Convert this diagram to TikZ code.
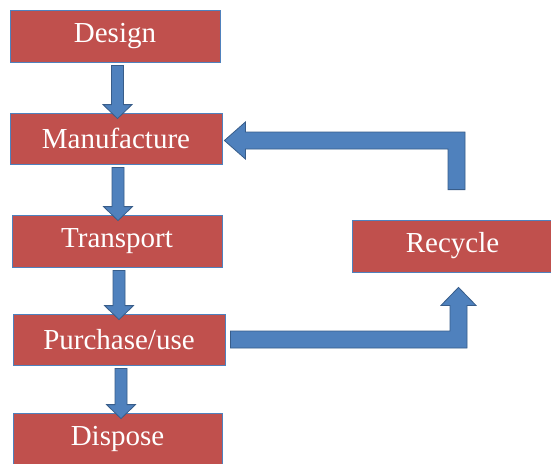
\documentclass[tikz,border=0pt]{standalone}
\usepackage{fontspec}
\setmainfont{Liberation Serif}
\newfontfamily\boxfont{Liberation Serif}
\usetikzlibrary{calc}
\definecolor{boxred}{HTML}{C0504D}
\definecolor{boxedge}{HTML}{4F81BD}
\definecolor{arrfill}{HTML}{4F81BD}
\definecolor{arredge}{HTML}{385D8A}
\tikzset{
  stagebox/.style={rectangle, fill=boxred, draw=boxedge, line width=0.8pt,
    text=white, font=\boxfont\fontsize{29}{32}\selectfont, inner sep=0pt},
  barrow/.style={fill=arrfill, draw=arredge, line width=0.8pt, line join=miter}
}
\newcommand\dnarrow[3]{%
  \filldraw[barrow] let \p1=($(#1.south)+(#3,-3)$), \p2=($(#2.north)+(#3,-6)$) in
    (\x1-6pt,\y1) -- (\x1+6pt,\y1) -- (\x1+6pt,\y2+14pt) -- (\x1+14.5pt,\y2+14pt)
    -- (\x1,\y2) -- (\x1-14.5pt,\y2+14pt) -- (\x1-6pt,\y2+14pt) -- cycle;}
\begin{document}
\begin{tikzpicture}[x=1pt,y=1pt]
\useasboundingbox (0,0) rectangle (551,-463);
\fill[white] (0,0) rectangle (551,-463);
\node[stagebox, minimum width=210pt, minimum height=52pt] (des) at (115,-36) {Design};
\node[stagebox, minimum width=212pt, minimum height=51pt] (man) at (116,-138.5) {Manufacture};
\node[stagebox, minimum width=210pt, minimum height=52pt] (tra) at (117,-241) {Transport};
\node[stagebox, minimum width=212pt, minimum height=51pt] (pur) at (119,-339.5) {Purchase/use};
\node[stagebox, minimum width=209pt, minimum height=52pt] (dis) at (117.5,-439) {Dispose};
\node[stagebox, minimum width=201pt, minimum height=52pt] (rec) at (452.5,-246) {Recycle};
\dnarrow{des}{man}{2.5}
\dnarrow{man}{tra}{2}
\dnarrow{tra}{pur}{2}
\dnarrow{pur}{dis}{2}
% Recycle -> Manufacture
\filldraw[barrow] let \p1=(man.east), \p2=(rec.north) in
  (\x2+12.5pt,\y2+30pt) -- (\x2+12.5pt,\y1+6.5pt) -- (\x1+23pt,\y1+6.5pt)
  -- (\x1+23pt,\y1+16.5pt) -- (\x1+2pt,\y1-2pt) -- (\x1+23pt,\y1-20.5pt)
  -- (\x1+23pt,\y1-10.5pt) -- (\x2-4.5pt,\y1-10.5pt) -- (\x2-4.5pt,\y2+30pt) -- cycle;
% Purchase/use -> Recycle
\filldraw[barrow] let \p1=(pur.east), \p2=(rec.south) in
  (\x1+5pt,\y1+8.5pt) -- (\x2-2.5pt,\y1+8.5pt) -- (\x2-2.5pt,\y2-33pt)
  -- (\x2-11.5pt,\y2-33pt) -- (\x2+6pt,\y2-15pt) -- (\x2+23.5pt,\y2-33pt)
  -- (\x2+14.5pt,\y2-33pt) -- (\x2+14.5pt,\y1-8.5pt) -- (\x1+5pt,\y1-8.5pt) -- cycle;
\end{tikzpicture}
\end{document}
